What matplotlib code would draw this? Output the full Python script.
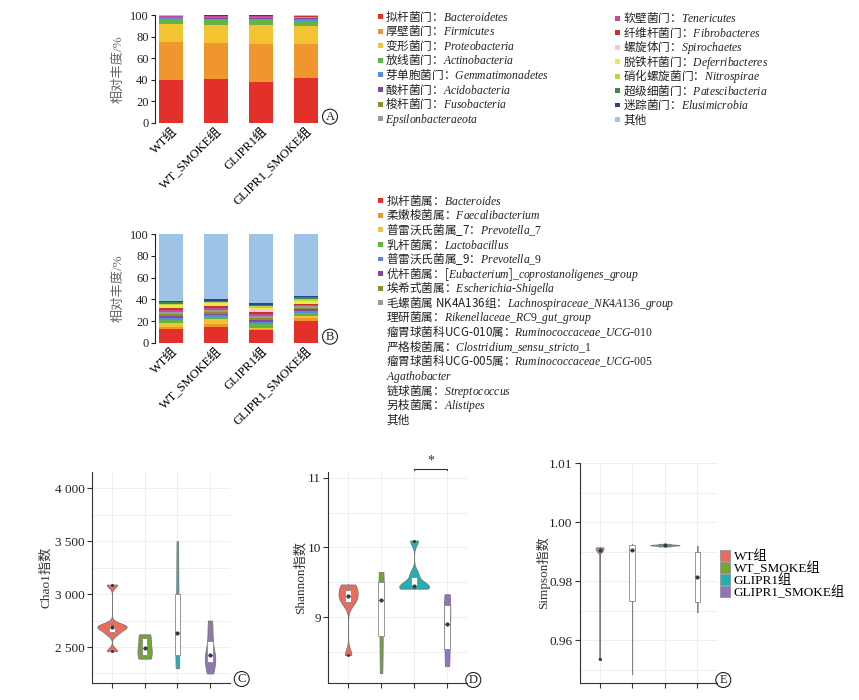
import re
import numpy as np
import matplotlib
matplotlib.use('Agg')
import matplotlib.pyplot as plt
import matplotlib.transforms as mtransforms
from matplotlib import cbook, mlab
from matplotlib.patches import Patch, Rectangle
from matplotlib.font_manager import FontProperties
from matplotlib.ticker import MultipleLocator

plt.rcParams['font.family'] = ['Liberation Serif', 'Noto Sans CJK SC']
plt.rcParams['font.size'] = 9
plt.rcParams['mathtext.fontset'] = 'custom'
plt.rcParams['mathtext.it'] = 'Liberation Serif:italic'
plt.rcParams['mathtext.rm'] = 'Liberation Serif'

groups = ['WT组', 'WT_SMOKE组', 'GLIPR1组', 'GLIPR1_SMOKE组']

# A: phylum level relative abundance (%), rows = taxa, cols = groups
phylum_cn = ['拟杆菌门', '厚壁菌门', '变形菌门', '放线菌门', '芽单胞菌门', '酸杆菌门', '梭杆菌门', '',
             '软壁菌门', '纤维杆菌门', '螺旋体门', '脱铁杆菌门', '硝化螺旋菌门', '超级细菌门', '迷踪菌门', '其他']
phylum_latin = ['Bacteroidetes', 'Firmicutes', 'Proteobacteria', 'Actinobacteria', 'Gemmatimonadetes',
                'Acidobacteria', 'Fusobacteria', 'Epsilonbacteraeota', 'Tenericutes', 'Fibrobacteres',
                'Spirochaetes', 'Deferribacteres', 'Nitrospirae', 'Patescibacteria', 'Elusimicrobia', '']
phylum_pct = [
    [39.6, 40.9, 37.5, 41.2],
    [35.0, 33.4, 35.5, 32.2],
    [17.0, 16.7, 17.4, 16.7],
    [4.7, 5.0, 5.6, 4.6],
    [0.5, 0.5, 0.5, 1.3],
    [0.5, 0.7, 0.7, 0.8],
    [0.6, 0.6, 0.6, 0.7],
    [0.5, 0.6, 0.6, 0.6],
    [0.3, 0.4, 0.4, 0.5],
    [0.2, 0.2, 0.2, 0.3],
    [0.2, 0.2, 0.2, 0.2],
    [0.1, 0.1, 0.1, 0.1],
    [0.1, 0.1, 0.1, 0.1],
    [0.1, 0.1, 0.1, 0.1],
    [0.1, 0.1, 0.1, 0.1],
    [0.5, 0.4, 0.4, 0.5],
]

# B: genus level
genus_cn = ['拟杆菌属', '柔嫩梭菌属', '普雷沃氏菌属_7', '乳杆菌属', '普雷沃氏菌属_9', '优杆菌属', '埃希式菌属',
            '毛螺菌属 NK4A136组', '理研菌属', '瘤胃球菌科UCG-010属', '严格梭菌属', '瘤胃球菌科UCG-005属', '',
            '链球菌属', '另枝菌属', '其他']
genus_latin = ['Bacteroides', 'Faecalibacterium', 'Prevotella_7', 'Lactobacillus', 'Prevotella_9',
               '[Eubacterium]_coprostanoligenes_group', 'Escherichia-Shigella', 'Lachnospiraceae_NK4A136_group',
               'Rikenellaceae_RC9_gut_group', 'Ruminococcaceae_UCG-010', 'Clostridium_sensu_stricto_1',
               'Ruminococcaceae_UCG-005', 'Agathobacter', 'Streptococcus', 'Alistipes', '']
genus_pct = [
    [12.3, 14.8, 11.4, 19.7],
    [2.5, 2.1, 1.5, 3.4],
    [3.0, 4.6, 0.9, 1.8],
    [3.5, 2.2, 3.4, 2.1],
    [1.5, 1.4, 2.0, 2.2],
    [1.8, 1.7, 1.8, 1.5],
    [1.9, 1.6, 1.6, 1.3],
    [1.8, 1.9, 2.1, 1.4],
    [1.7, 1.8, 1.6, 1.3],
    [1.6, 1.5, 1.9, 1.2],
    [1.6, 1.4, 2.4, 1.1],
    [1.5, 1.4, 1.5, 1.2],
    [1.3, 1.3, 1.4, 1.9],
    [1.2, 1.2, 1.2, 1.6],
    [1.3, 1.2, 1.6, 1.3],
    [61.5, 59.9, 63.7, 57.0],
]
genus_marked = 8  # only the first entries show a colour key in the original

taxa_colors = ['#E3302B', '#F0962E', '#F2C431', '#63B447', '#5B8BD0', '#7D4A9E', '#8F8F2A', '#9A9A9A',
               '#C7489A', '#C8312C', '#F7C9D0', '#EFE84A', '#BED43A', '#3C8B43', '#26449A', '#9DC3E6']

# C-E: alpha diversity per sample
chao1 = [[2460, 2630, 2680, 2690, 2710, 3090],
         [2390, 2400, 2480, 2510, 2610, 2620],
         [2300, 2380, 2560, 2700, 3100, 3500],
         [2250, 2350, 2400, 2440, 2600, 2750]]
shannon = [[8.46, 9.20, 9.28, 9.33, 9.42, 9.47],
           [8.20, 8.60, 9.10, 9.40, 9.55, 9.65],
           [9.41, 9.43, 9.44, 9.47, 9.62, 10.10],
           [8.30, 8.45, 8.85, 8.95, 9.25, 9.33]]
simpson = [[0.9535, 0.9900, 0.9905, 0.9910, 0.9913, 0.9915],
           [0.9485, 0.9680, 0.9895, 0.9920, 0.9922, 0.9925],
           [0.9918, 0.9921, 0.9922, 0.9923, 0.9924, 0.9927],
           [0.9695, 0.9710, 0.9790, 0.9840, 0.9918, 0.9920]]
group_colors = ['#EC6B5F', '#74A433', '#20B0B3', '#9670C0']

chao_ticks = [2500, 3000, 3500, 4000]
chao_labels = ['2 500', '3 000', '3 500', '4 000']
shannon_ticks = [9, 10, 11]
shannon_labels = ['9', '10', '11']
simpson_ticks = [0.96, 0.98, 1.00, 1.02]
simpson_labels = ['0.96', '0.98', '1.00', '1.01']

W, H = 859, 700
fig = plt.figure(figsize=(W / 100, H / 100), dpi=100)


def fbox(x0, y0, x1, y1):
    # pixel box (top-left origin) -> figure fraction rect
    return [x0 / W, 1 - y1 / H, (x1 - x0) / W, (y1 - y0) / H]


def italic_label(cn, latin):
    lat = re.sub(r'[A-Za-z0-9_]+', lambda m: '$\\mathit{' + m.group(0).replace('_', r'\_') + '}$', latin)
    if cn and latin:
        return cn + '：' + lat
    return cn or lat


def circled(x, y, s):
    fig.text(x / W, 1 - y / H, s, ha='center', va='center', fontsize=9, color='#222',
             bbox=dict(boxstyle='circle,pad=0.12', fc='none', ec='#222', lw=0.8))


legprop = FontProperties(family='Noto Sans CJK SC', size=8.4)


def text_legend(labels, colors, shown, x_mark, x_text, y0, dy):
    # one row per taxon: small colour square + mixed cn / italic latin label
    for i, (lab, c) in enumerate(zip(labels, colors)):
        yc = y0 + i * dy
        if shown[i]:
            fig.add_artist(Rectangle((x_mark / W, 1 - (yc + 2.4) / H), 4.8 / W, 4.8 / H,
                                     transform=fig.transFigure, fc=c, ec='none'))
        fig.text(x_text / W, 1 - (yc + 4.0) / H, lab, fontproperties=legprop, va='baseline', ha='left',
                 color='#222')


xpos = np.arange(len(groups))


def stacked(ax, pct):
    bottom = np.zeros(len(groups))
    for vals, c in zip(pct, taxa_colors):
        ax.bar(xpos, vals, width=0.53, bottom=bottom, color=c, edgecolor='none')
        bottom += np.array(vals)
    ax.set_xlim(-0.36, 3.36)
    ax.set_ylim(0, 100)
    ax.set_yticks([0, 20, 40, 60, 80, 100])
    ax.set_xticks(xpos)
    ax.set_xticklabels(groups, rotation=45, ha='right', va='top', rotation_mode='anchor', fontsize=9)
    off = mtransforms.ScaledTranslation(0.11, 0.0, fig.dpi_scale_trans)
    for lab in ax.get_xticklabels():
        lab.set_transform(lab.get_transform() + off)
    ax.tick_params(axis='x', length=0, pad=2)
    ax.tick_params(axis='y', length=3, width=0.8, pad=1.5, labelsize=9, colors='#222')
    for s in ['top', 'right', 'bottom']:
        ax.spines[s].set_visible(False)
    ax.spines['left'].set_linewidth(0.8)
    ax.spines['left'].set_color('#222')
    ax.set_ylabel('相对丰度/%', fontsize=9.5, color='#666')
    ax.yaxis.set_label_coords(-0.18, 0.5)


# ---------- A
axA = fig.add_axes(fbox(155, 15, 322, 122.7))
stacked(axA, phylum_pct)
lA = [italic_label(a, b) for a, b in zip(phylum_cn, phylum_latin)]
text_legend(lA[:8], taxa_colors[:8], [True] * 8, 378, 385, 16.5, 14.6)
text_legend(lA[8:], taxa_colors[8:], [True] * 8, 615, 623, 18.3, 14.45)
circled(330, 116.7, 'A')

# ---------- B
axB = fig.add_axes(fbox(155, 234.3, 322, 342.7))
stacked(axB, genus_pct)
lB = [italic_label(a, b) for a, b in zip(genus_cn, genus_latin)]
text_legend(lB, taxa_colors, [i < genus_marked for i in range(len(lB))], 378, 386, 200.7, 14.6)
circled(330, 336.7, 'B')


def nrd0(k):
    x = np.asarray(k.dataset).ravel()
    sd = np.std(x, ddof=1)
    q1, q3 = np.percentile(x, [25, 75])
    h = 0.9 * min(sd, (q3 - q1) / 1.34) * len(x) ** -0.2
    return h / sd


def violins(ax, data, ylim, ticks, ticklabels, minor, ylabel, lab_x):
    pos = np.arange(1, len(data) + 1)
    stats = cbook.violin_stats(data, lambda x, c: mlab.GaussianKDE(x, nrd0).evaluate(c), points=300)
    peak = max(s['vals'].max() for s in stats)
    widths = [0.9 * s['vals'].max() / peak for s in stats]
    parts = ax.violin(stats, positions=pos, widths=widths, showextrema=False)
    for b, c in zip(parts['bodies'], group_colors):
        b.set_facecolor(c)
        b.set_edgecolor('#777777')
        b.set_linewidth(0.6)
        b.set_alpha(1)
        b.set_zorder(2)
    ax.boxplot(data, positions=pos, widths=0.17, patch_artist=True, showcaps=False, manage_ticks=False,
               boxprops=dict(facecolor='white', edgecolor='#888888', linewidth=0.6),
               whiskerprops=dict(color='#888888', linewidth=0.6),
               medianprops=dict(color='#888888', linewidth=0.6),
               flierprops=dict(marker='o', markersize=2.2, markerfacecolor='#3a3a3a', markeredgecolor='none'),
               zorder=3)
    ax.plot(pos, [np.median(d) for d in data], 'o', ms=2.0, color='#3a3a3a', zorder=4)
    ax.set_xlim(0.4, 4.6)
    ax.set_ylim(*ylim)
    ax.set_xticks(pos)
    ax.set_xticklabels([])
    ax.set_yticks(ticks)
    ax.set_yticklabels(ticklabels)
    ax.yaxis.set_minor_locator(MultipleLocator(minor))
    ax.set_axisbelow(True)
    ax.grid(True, axis='x', which='major', color='#ececec', lw=0.6)
    ax.grid(True, axis='y', which='both', color='#ececec', lw=0.6)
    ax.tick_params(which='minor', length=0)
    ax.tick_params(which='major', length=3.5, width=0.8, color='#333', labelsize=9.5, labelcolor='#222', pad=2)
    for s in ['top', 'right']:
        ax.spines[s].set_visible(False)
    for s in ['left', 'bottom']:
        ax.spines[s].set_linewidth(0.8)
        ax.spines[s].set_color('#333')
    ax.set_ylabel(ylabel, fontsize=9.5, color='#333')
    ax.yaxis.set_label_coords(lab_x, 0.5)


# ---------- C
axC = fig.add_axes(fbox(92.3, 471.7, 92.3 + 4.2 * 32.7, 683.3))
violins(axC, chao1, (2157, 4157), chao_ticks, chao_labels, 250, 'Chao1指数', -0.29)
circled(241.7, 679, 'C')

# ---------- D
axD = fig.add_axes(fbox(328.3, 471.7, 328.3 + 4.2 * 33, 683.3))
violins(axD, shannon, (8.054, 11.086), shannon_ticks, shannon_labels, 0.5, 'Shannon指数', -0.155)
axD.plot([3, 3, 4, 4], [11.11, 11.125, 11.125, 11.11], color='#333', lw=0.8, clip_on=False)
axD.text(3.5, 11.14, '*', ha='center', va='bottom', fontsize=10, color='#333', clip_on=False)
circled(473.3, 680, 'D')

# ---------- E
axE = fig.add_axes(fbox(580, 462.7, 580 + 4.2 * 32.6, 683.3))
violins(axE, simpson, (0.9454, 1.0202), simpson_ticks, simpson_labels, 0.01, 'Simpson指数', -0.215)
hE = [Patch(facecolor=c, edgecolor='#888888', linewidth=0.5) for c in group_colors]
axE.legend(hE, groups, loc='upper left', bbox_to_anchor=(720 / W, 1 - 550 / H), bbox_transform=fig.transFigure,
           frameon=False, fontsize=9.5, handlelength=0.75, handleheight=0.9, handletextpad=0.3,
           labelspacing=-0.1, borderaxespad=0, borderpad=0)
circled(723.3, 680, 'E')

fig.savefig('out.png', dpi=100)
